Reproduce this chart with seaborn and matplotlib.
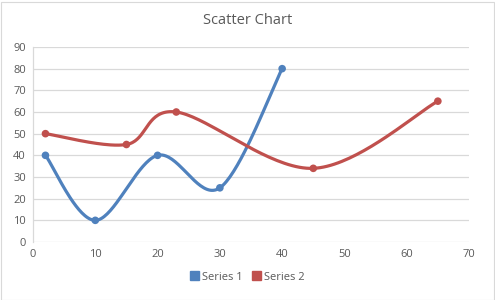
import matplotlib
matplotlib.use("Agg")
import matplotlib.pyplot as plt
from matplotlib.patches import Rectangle
import seaborn as sns
import pandas as pd
import numpy as np

series1_x = [2, 10, 20, 30, 40]
series1_y = [40, 10, 40, 25, 80]
series2_x = [2, 15, 23, 45, 65]
series2_y = [50, 45, 60, 34, 65]
series_names = ["Series 1", "Series 2"]
colors = ["#4f81bd", "#c0504d"]


def smooth(xs, ys, n=40):
    # catmull-rom style bezier, similar to spreadsheet smoothed lines
    p = np.column_stack([xs, ys]).astype(float)
    out = []
    for i in range(len(p) - 1):
        p0 = p[i - 1] if i > 0 else p[i]
        p3 = p[i + 2] if i + 2 < len(p) else p[i + 1]
        p1, p2 = p[i], p[i + 1]
        c1 = p1 + (p2 - p0) / 6
        c2 = p2 - (p3 - p1) / 6
        t = np.linspace(0, 1, n)[:, None]
        seg = (1 - t) ** 3 * p1 + 3 * (1 - t) ** 2 * t * c1 + 3 * (1 - t) * t ** 2 * c2 + t ** 3 * p2
        out.append(seg if i == 0 else seg[1:])
    return np.vstack(out)


sns.set_theme(style="white")
plt.rcParams["font.family"] = ["Open Sans", "DejaVu Sans"]

fig = plt.figure(figsize=(4.95, 3.0), dpi=100)
ax = fig.add_axes([33 / 495, 1 - 242 / 300, (469 - 33) / 495, (242 - 47) / 300])

points = pd.DataFrame({
    "x": series1_x + series2_x,
    "y": series1_y + series2_y,
    "series": [series_names[0]] * len(series1_x) + [series_names[1]] * len(series2_x),
})

for name, color, xs, ys in zip(series_names, colors, [series1_x, series2_x], [series1_y, series2_y]):
    curve = smooth(xs, ys)
    sns.lineplot(x=curve[:, 0], y=curve[:, 1], sort=False, estimator=None, color=color,
                 linewidth=2.3, ax=ax, zorder=3)

sns.scatterplot(data=points, x="x", y="y", hue="series", palette=colors, s=30,
                edgecolor="none", ax=ax, zorder=4, legend=False)

ax.set_xlim(0, 70)
ax.set_ylim(0, 90)
ax.set_xticks(range(0, 71, 10))
ax.set_yticks(range(0, 91, 10))
ax.grid(axis="y", color="#d9d9d9", linewidth=0.9)
ax.set_axisbelow(True)
for side in ["top", "right", "bottom"]:
    ax.spines[side].set_visible(False)
ax.spines["left"].set_color("#d9d9d9")
ax.spines["left"].set_linewidth(0.9)
ax.tick_params(axis="both", length=0, labelsize=8, labelcolor="#595959", pad=5)
ax.set_xlabel("")
ax.set_ylabel("")

fig.text(0.5, 1 - 20 / 300, "Scatter Chart", ha="center", va="center", fontsize=10.5, color="#595959")

handles = [Rectangle((0, 0), 1, 1, color=c) for c in colors]
fig.legend(handles, series_names, loc="center", bbox_to_anchor=(0.5, 1 - 277 / 300), ncol=2,
           frameon=False, fontsize=8, labelcolor="#595959", handlelength=0.8, handleheight=0.8,
           handletextpad=0.3, columnspacing=0.8)

fig.patches.append(Rectangle((0.5 / 495, 0.5 / 300), 1 - 2 / 495, 1 - 2.5 / 300, transform=fig.transFigure,
                             fill=False, edgecolor="#d9d9d9", linewidth=0.8))

fig.savefig("out.png", dpi=100)
